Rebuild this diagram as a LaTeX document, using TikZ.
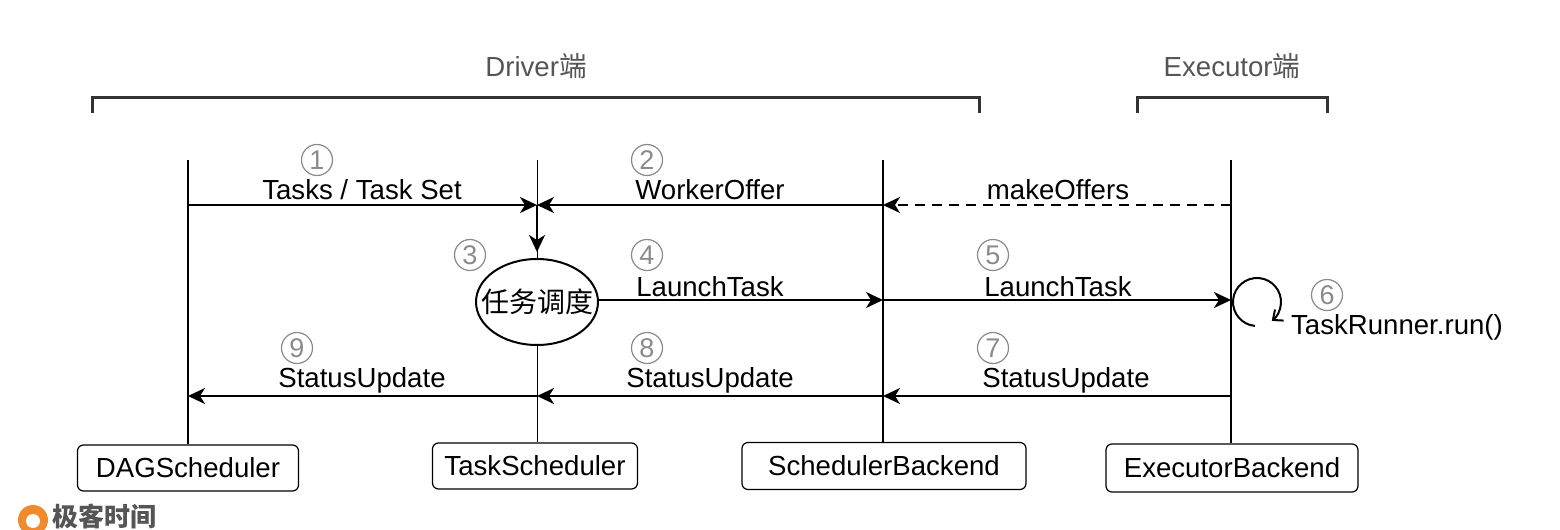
\documentclass[tikz,border=0pt]{standalone}
\usepackage{fontspec}
\setmainfont{Liberation Sans}
\newfontfamily\cjk{Noto Sans CJK SC}
\usetikzlibrary{arrows.meta,shapes.geometric}
\definecolor{numgray}{HTML}{8A8A8A}
\definecolor{labgray}{HTML}{555555}
\definecolor{brk}{HTML}{333333}
\definecolor{logoorange}{HTML}{F08A2C}
\tikzset{
  txt/.style={font=\fontsize{13.8}{16}\selectfont, inner sep=0pt},
  hdr/.style={font=\fontsize{13.8}{16}\selectfont, text=labgray, inner sep=0pt},
  num/.style={circle, draw=numgray, line width=0.6pt, text=numgray, minimum size=15.5pt, inner sep=0pt, font=\fontsize{13.5}{14}\selectfont},
  box/.style={draw, rounded corners=3pt, line width=0.6pt, font=\fontsize{13.8}{16}\selectfont, inner sep=0pt},
  life/.style={line width=1pt},
  thin life/.style={line width=0.5pt},
  msg/.style={line width=1pt, -{Stealth[length=8.5pt,width=8pt,inset=2.5pt]}},
  bracket/.style={line width=1.5pt, draw=brk},
}
\begin{document}
\begin{tikzpicture}[x=0.5pt,y=-0.5pt]
\clip (0,0) rectangle (1560,530);
\useasboundingbox (0,0) rectangle (1560,530);

% headers and brackets
\node[hdr] (drv) at (536,66) {Driver{\cjk 端}};
\node[hdr] (exe) at (1232,66) {Executor{\cjk 端}};
\draw[bracket] (92,113) -- (92,97) -- (979,97) -- (979,113);
\draw[bracket] (1137,113) -- (1137,97) -- (1327,97) -- (1327,113);

% boxes
\node[box, minimum width=110.5pt, minimum height=23pt] (dag) at (188,468) {DAGScheduler};
\node[box, minimum width=102.5pt, minimum height=23pt] (ts) at (535,466) {TaskScheduler};
\node[box, minimum width=142pt, minimum height=23.5pt] (sb) at (884,466) {SchedulerBackend};
\node[box, minimum width=126pt, minimum height=24pt] (eb) at (1232,468) {ExecutorBackend};

% ellipse
\node[ellipse, draw, line width=1pt, minimum width=61pt, minimum height=43pt, inner sep=0pt] (sched) at (537,302) {};
\node[inner sep=0pt, font=\cjk\fontsize{14}{16}\selectfont] (schedtxt) at (sched.center) {任务调度};

% lifeline coordinates
\coordinate (dTop) at (188,160);
\coordinate (tTop) at (537,160);
\coordinate (sTop) at (883,160);
\coordinate (eTop) at (1231,160);
\coordinate (d1) at (188,205);
\coordinate (t1) at (537,205);
\coordinate (s1) at (883,205);
\coordinate (e1) at (1231,205);
\coordinate (t2) at (537,252);
\coordinate (s2) at (883,300);
\coordinate (e2) at (1231,300);
\coordinate (d3) at (188,396);
\coordinate (t3) at (537,396);
\coordinate (s3) at (883,396);
\coordinate (e3) at (1231,396);

% lifelines
\draw[life] (dTop) -- (dag.north);
\draw[thin life] (tTop) -- (sched.north);
\draw[thin life] (sched.south) -- (ts.north -| sched.south);
\draw[life] (sTop) -- (sb.north -| sTop);
\draw[life] (eTop) -- (eb.north -| eTop);

% messages
\draw[msg] (d1) -- (t1);
\draw[msg] (s1) -- (t1);
\draw[msg, dashed, dash pattern=on 5pt off 3.5pt] (e1) -- (s1);
\draw[msg] (t1) -- (t2);
\draw[msg] (sched.east |- s2) -- (s2);
\draw[msg] (s2) -- (e2);
\draw[msg] (e3) -- (s3);
\draw[msg] (s3) -- (t3);
\draw[msg] (t3) -- (d3);

% self loop
\coordinate (loopc) at (1257,302);
\draw[line width=1pt, -{Straight Barb[length=4pt,width=7pt]}] (loopc) ++(265:12pt) arc[start angle=265, end angle=-52, radius=12pt];

% labels
\node[txt] (l1) at (362,190) {Tasks / Task Set};
\node[txt] (l2) at (710,190) {WorkerOffer};
\node[txt] (l2b) at (1058,190) {makeOffers};
\node[txt] (l4) at (710,287) {LaunchTask};
\node[txt] (l5) at (1058,287) {LaunchTask};
\node[txt] (l6) at (1397,327) {TaskRunner.run()};
\node[txt] (l7) at (1066,380) {StatusUpdate};
\node[txt] (l8) at (710,380) {StatusUpdate};
\node[txt] (l9) at (362,380) {StatusUpdate};

% circled numbers
\node[num] (n1) at (317,160) {1};
\node[num] (n2) at (647,160) {2};
\node[num] (n3) at (470,255) {3};
\node[num] (n4) at (647,255) {4};
\node[num] (n5) at (993,255) {5};
\node[num] (n6) at (1327,295) {6};
\node[num] (n7) at (993,348) {7};
\node[num] (n8) at (647,348) {8};
\node[num] (n9) at (297,348) {9};

% logo
\fill[logoorange] (33,520) circle[radius=7.5pt];
\fill[white] (33,521) circle[radius=3.5pt];
\node[anchor=west, inner sep=0pt, text=labgray, font=\cjk\bfseries\fontsize{13}{14}\selectfont] (logo) at (52,516) {极客时间};
\end{tikzpicture}
\end{document}
